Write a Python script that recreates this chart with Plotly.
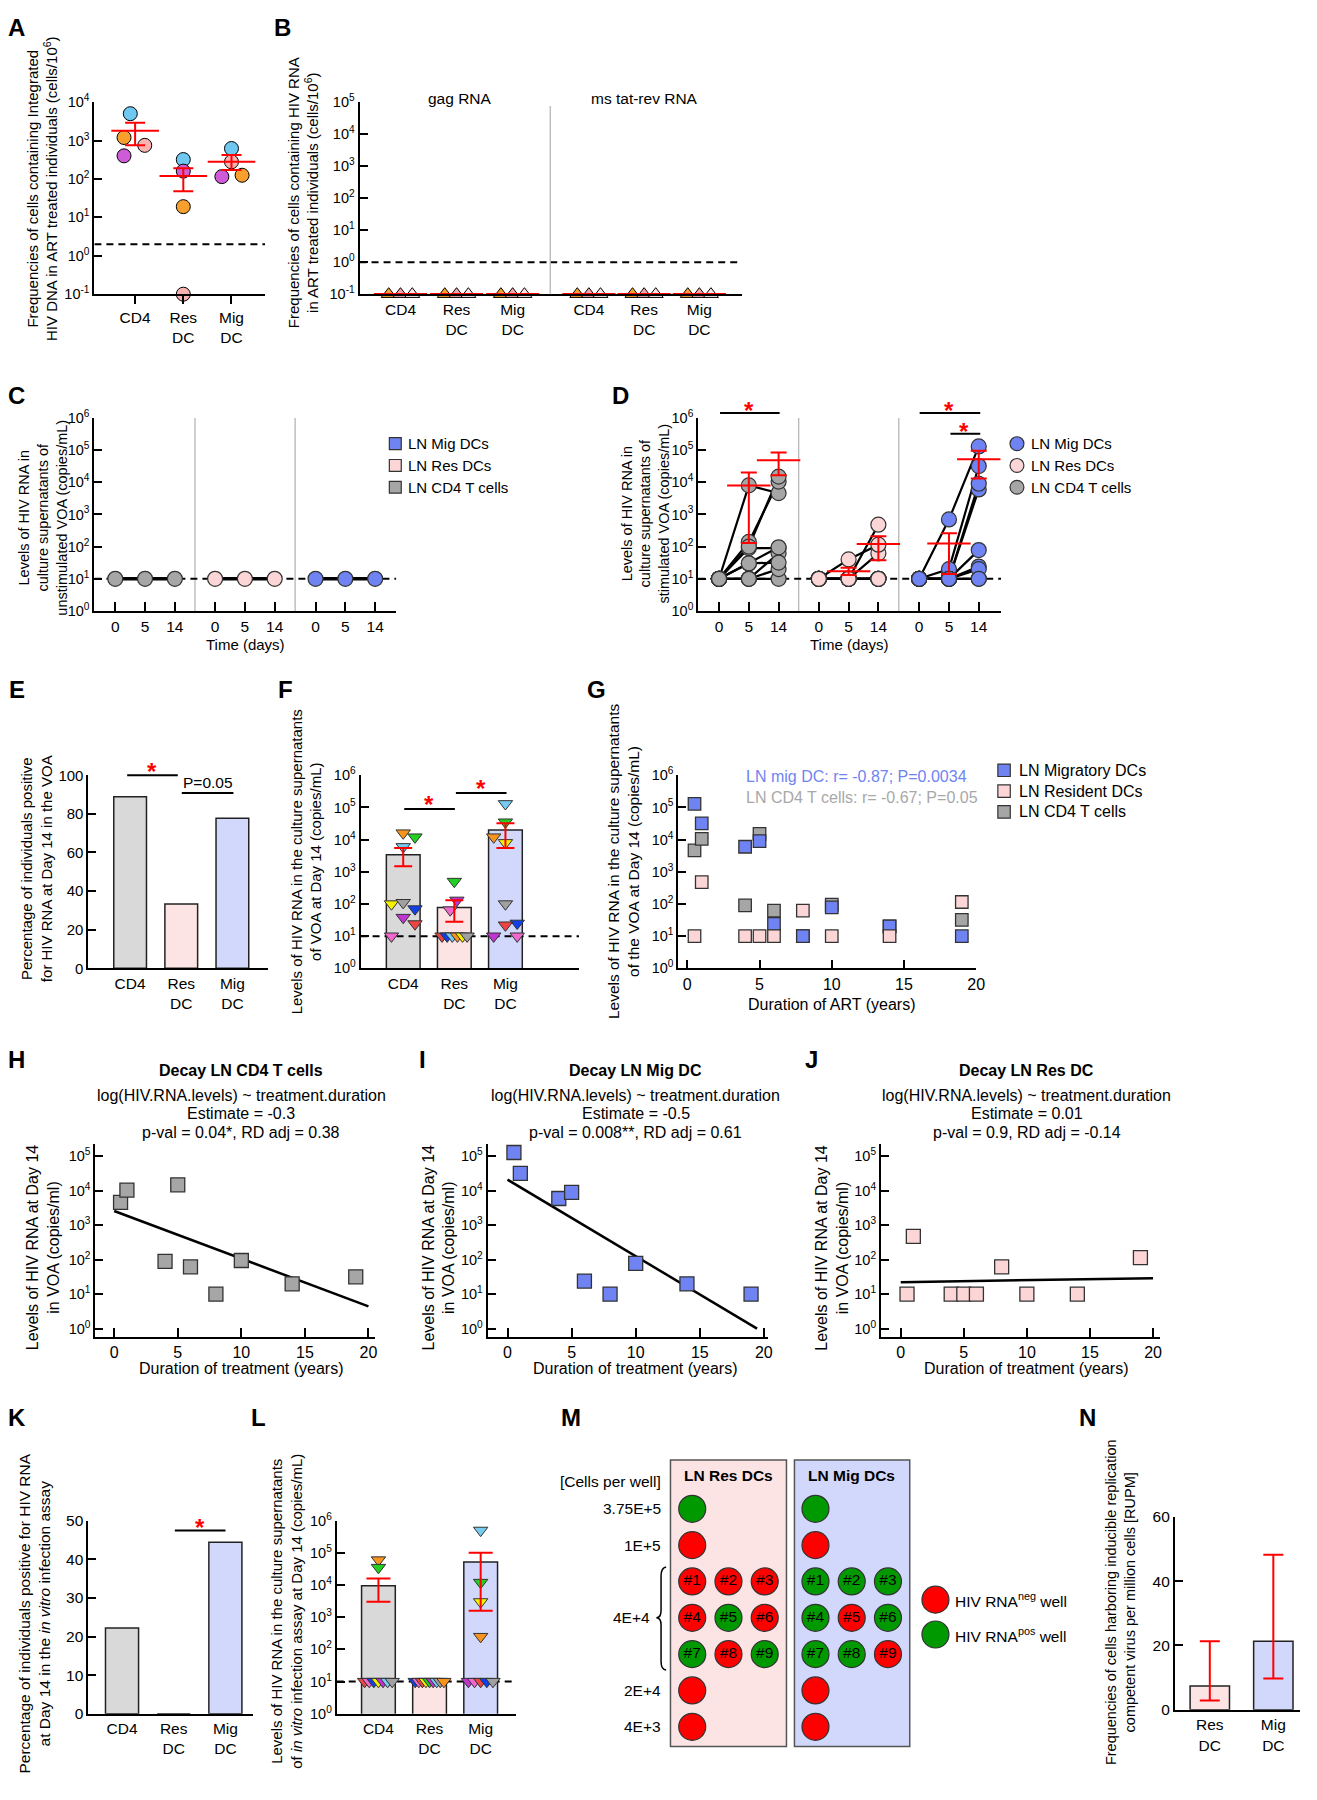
import numpy as np
import plotly.graph_objects as go

W, H = 1317, 1800          # page size (reference pixel coordinates)
OFF = 8                    # default page margin around the figure
FW, FH = W - 2 * OFF, H - 2 * OFF
FONT = "Liberation Sans, Arial, Helvetica, sans-serif"

# ======================= DATA =======================
CATS = ["CD4", "Res<br>DC", "Mig<br>DC"]
DC_CATS = ["Res<br>DC", "Mig<br>DC"]
DAYS = ["0", "5", "14"]

# A: integrated HIV DNA (cells/10^6); donors sky, orange, salmon, magenta
A_CD4 = [5000, 1200, 750, 400]
A_RES = [320, 19, 0.1, 160]
A_MIG = [620, 125, 280, 115]
A_MEAN = [1800, 120, 280]
A_LO = [750, 48, 170]
A_HI = [2900, 190, 420]
A_LIMIT = 2

# B: cell-associated HIV RNA (all below detection)
B_GAG = [[0.1, 0.1, 0.1], [0.1, 0.1, 0.1], [0.1, 0.1, 0.1]]
B_MSTR = [[0.1, 0.1, 0.1], [0.1, 0.1, 0.1], [0.1, 0.1, 0.1]]
B_MEAN_GAG = [0.1, 0.1, 0.1]
B_MEAN_MSTR = [0.1, 0.1, 0.1]
B_LIMIT = 1
B_TITLES = ["gag RNA", "ms tat-rev RNA"]

# C: unstimulated VOA (copies/mL) at days 0, 5, 14
C_CD4 = [10, 10, 10]
C_RES = [10, 10, 10]
C_MIG = [10, 10, 10]
VOA_LIMIT = 10

# D: stimulated VOA, one row per individual (days 0, 5, 14)
D_CD4 = [[10, 8000, 4600], [10, 140, 10500], [10, 90, 90], [10, 100, 15000], [10, 10, 62],
         [10, 10, 10], [10, 30, 95], [10, 10, 20], [10, 30, 32]]
D_RES = [[10, 10, 10], [10, 10, 480], [10, 10, 10], [10, 10, 10], [10, 10, 10],
         [10, 10, 62], [10, 10, 10], [10, 10, 10], [10, 40, 115]]
D_MIG = [[10, 700, 130000], [10, 20, 32000], [10, 10, 6000], [10, 10, 9000], [10, 10, 24],
         [10, 10, 10], [10, 10, 78], [10, 10, 20], [10, 10, 10]]
D_MEAN = [[8000, 48000], [17, 120], [125, 52000]]
D_LO = [[130, 16500], [13, 38], [14, 13000]]
D_HI = [[20000, 84000], [22, 210], [260, 95000]]

# E: % positive at day 14 in VOA
E_PCT = [88.9, 33.3, 77.8]

# F: HIV RNA at day 14 in VOA
F_CD4 = [16000, 12000, 6000, 100, 110, 70, 38, 24, 10]
F_RES = [500, 130, 65, 10, 10, 10, 10, 10, 10]
F_MIG = [130000, 35000, 12000, 8000, 100, 25, 22, 10, 10]
F_BAR = [3400, 78, 20000]
F_LO = [1500, 28, 5500]
F_HI = [5500, 130, 32000]

# G-J: duration of ART vs day-14 HIV RNA
ART_YEARS = [0.5, 1, 4, 5, 6, 8, 10, 14, 19]
G_MIG = [130000, 32000, 6000, 9000, 24, 10, 78, 20, 10]
G_RES = [10, 480, 10, 10, 10, 62, 10, 10, 115]
G_CD4 = [4600, 10500, 90, 15000, 62, 10, 95, 20, 32]
G_STATS = ["LN mig DC: r= -0.87; P=0.0034", "LN CD4 T cells: r= -0.67; P=0.05"]
DECAY_TITLES = ["Decay LN CD4 T cells", "Decay LN Mig DC", "Decay LN Res DC"]
DECAY_EST = ["-0.3", "-0.5", "0.01"]
DECAY_P = ["p-val = 0.04*, RD adj = 0.38", "p-val = 0.008**, RD adj = 0.61", "p-val = 0.9, RD adj = -0.14"]

# K: % positive in in-vitro infection assay
K_PCT = [22.2, 0, 44.4]

# L: HIV RNA in in-vitro infection assay
L_CD4 = [60000, 35000, 10, 10, 10, 10, 10, 10, 10]
L_RES = [10, 10, 10, 10, 10, 10, 10, 10, 10]
L_MIG = [500000, 12000, 3000, 250, 10, 10, 10, 10, 10]
L_BAR = [9500, 10, 52000]
L_LO = [3000, 10, 1600]
L_HI = [16000, 10, 100000]

# M: limiting dilution wells (1 = HIV RNA pos, 0 = neg)
M_DILUTIONS = ["3.75E+5", "1E+5", "4E+4", "2E+4", "4E+3"]
M_RES = [[1], [0], [0, 0, 0, 0, 1, 0, 1, 0, 1], [0], [0]]
M_MIG = [[1], [0], [1, 1, 1, 1, 0, 1, 1, 1, 0], [0], [0]]

# N: RUPM
N_BAR = [7.4, 21.3]
N_LO = [2.9, 9.7]
N_HI = [21.3, 48.2]

# ======================= STYLE =======================
SKY, ORANGE, SALMON, MAGENTA = "#6FC8F0", "#F7A02E", "#F8B3B0", "#CE5CD8"
BPINK, BLPINK = "#F2A6AC", "#FCE4E4"
GRAY_M, PINK_M, BLUE_M = "#A6A6A6", "#FCD6D6", "#6F84F2"
BAR_GRAY, BAR_PINK, BAR_BLUE = "#D9D9D9", "#FDE4E4", "#D1D8FB"
T = dict(orange="#F7941E", green="#22D022", sky="#76CBF2", yellow="#F4F000", gray="#A0A0A0",
         blue="#1040E8", purple="#C234D2", red="#EE4444", pink="#F068CC")
WELL_RED, WELL_GREEN = "#FF0000", "#009A00"
XTICK, YTICK = 15.5, 14.5

fig = go.Figure()
layout = dict(width=FW, height=FH, margin=dict(l=0, r=0, t=0, b=0), paper_bgcolor="white",
              plot_bgcolor="rgba(0,0,0,0)", showlegend=False, hovermode=False,
              font=dict(family=FONT, size=14, color="black"))
shapes, annots = [], []
n_ax = [0]


def fx(x):
    return (x - OFF) / FW


def fy(y):
    return 1 - (y - OFF) / FH


def ax(xpx, ypx, xr, yr, ytype="linear", xkw=None, ykw=None, show=True):
    n_ax[0] += 1
    s = "" if n_ax[0] == 1 else str(n_ax[0])
    common = dict(showgrid=False, zeroline=False, showline=show, visible=show, linecolor="black",
                  linewidth=2, tickcolor="black", tickwidth=2, ticklen=8, ticks="", fixedrange=True)
    xa = dict(common, domain=[max(0, fx(xpx[0])), min(1, fx(xpx[1]))], range=xr, type="linear",
              anchor="y" + s, tickfont=dict(size=XTICK, color="black", family=FONT))
    ya = dict(common, domain=[max(0, fy(ypx[1])), min(1, fy(ypx[0]))], range=yr, type=ytype,
              anchor="x" + s, tickfont=dict(size=YTICK, color="black", family=FONT))
    if xkw:
        xa.update(xkw)
    if ykw:
        ya.update(ykw)
    layout["xaxis" + s] = xa
    layout["yaxis" + s] = ya
    return "x" + s, "y" + s


def logticks(lo, hi):
    return dict(tickvals=[10.0 ** k for k in range(lo, hi + 1)],
                ticktext=[f"10<sup>{k}</sup>" for k in range(lo, hi + 1)])


def text(x, y, s, size=14, color="black", bold=False, angle=0, xanchor="center", yanchor="middle"):
    annots.append(dict(x=fx(x), y=fy(y), xref="paper", yref="paper",
                       text=f"<b>{s}</b>" if bold else s, showarrow=False,
                       font=dict(size=size, color=color, family=FONT), textangle=angle,
                       xanchor=xanchor, yanchor=yanchor))


def pline(x0, y0, x1, y1, color="black", width=2):
    shapes.append(dict(type="line", xref="paper", yref="paper", x0=fx(x0), x1=fx(x1),
                       y0=fy(y0), y1=fy(y1), line=dict(color=color, width=width)))


def star(x, y):
    text(x, y + 7, "*", size=24, color="red", bold=True)


def hline(xa, ya, xr, y):
    fig.add_trace(go.Scatter(x=xr, y=[y, y], mode="lines", xaxis=xa, yaxis=ya,
                             line=dict(color="black", width=2, dash="7px,5px")))


def vsep(xa, ya, x, yr):
    fig.add_trace(go.Scatter(x=[x, x], y=yr, mode="lines", xaxis=xa, yaxis=ya,
                             line=dict(color="#B0B0B0", width=1.2)))


def err_trace(xa, ya, x, mean, lo, hi, mean_w=0, cap=9, thick=2):
    if mean_w:
        marker = dict(symbol="line-ew", size=mean_w, color="red", line=dict(color="red", width=thick))
    else:
        marker = dict(size=1, color="rgba(0,0,0,0)")
    fig.add_trace(go.Scatter(
        x=x, y=mean, mode="markers", marker=marker, cliponaxis=False, xaxis=xa, yaxis=ya,
        error_y=dict(type="data", symmetric=False, array=[h - m for h, m in zip(hi, mean)],
                     arrayminus=[m - l for m, l in zip(mean, lo)], color="red",
                     thickness=thick, width=cap)))


def mean_lines(xa, ya, x, mean, w=36):
    fig.add_trace(go.Scatter(x=x, y=mean, mode="markers", cliponaxis=False, xaxis=xa, yaxis=ya,
                             marker=dict(symbol="line-ew", size=w, color="red",
                                         line=dict(color="red", width=2.5))))


def legend(x, ys, labels, colors, symbol="square", size=13, tx=None, fsize=15):
    for y, lab, c in zip(ys, labels, colors):
        h = size / 2
        shapes.append(dict(type="rect" if symbol == "square" else "circle", xref="paper", yref="paper",
                           x0=fx(x - h), x1=fx(x + h), y0=fy(y + h), y1=fy(y - h),
                           fillcolor=c, line=dict(color="#333", width=1.2)))
        text(tx if tx else x + 12, y, lab, size=fsize, xanchor="left")


# ======================= PANEL A =======================
xr = [-0.845, 2.70]
xa, ya = ax((95, 267), (93, 287), xr, [-1, 4], "log",
            xkw=dict(tickvals=[0, 1, 2], ticktext=CATS, ticks="outside"),
            ykw=dict(ticks="inside", **logticks(-1, 4)))
hline(xa, ya, xr, A_LIMIT)
A_COLORS = [SKY, ORANGE, SALMON, MAGENTA]
A_JIT = [[-0.1, -0.23, 0.2, -0.23], [0, 0, 0, 0], [0, 0.22, 0, -0.2]]
for g, vals in enumerate([A_CD4, A_RES, A_MIG]):
    fig.add_trace(go.Scatter(x=[g + j for j in A_JIT[g]], y=vals, mode="markers", cliponaxis=False,
                             marker=dict(size=14, color=A_COLORS, line=dict(color="black", width=1)),
                             xaxis=xa, yaxis=ya))
err_trace(xa, ya, [0, 1, 2], A_MEAN, A_LO, A_HI, mean_w=34, cap=10)
text(42, 180, "Frequencies of cells containing Integrated<br>HIV DNA in ART treated individuals (cells/10<sup>6</sup>)",
     size=15, angle=-90)

# ======================= PANEL B =======================
B_COLORS = [ORANGE, BPINK, BLPINK]
B_JIT = [-0.21, 0, 0.21]
for k, (xpx, xrb, data, means, tx) in enumerate([
        ((362, 554), [-0.73, 2.67], B_GAG, B_MEAN_GAG, 463),
        ((554, 747), [-0.70, 2.77], B_MSTR, B_MEAN_MSTR, 649)]):
    if k == 0:
        ykw = dict(ticks="inside", **logticks(-1, 5))
    else:
        ykw = dict(showline=False, showticklabels=False, ticks="")
    xa, ya = ax(xpx, (93, 287), xrb, [-1, 5], "log",
                xkw=dict(tickvals=[0, 1, 2], ticktext=CATS), ykw=ykw)
    hline(xa, ya, xrb, B_LIMIT)
    for g, vals in enumerate(data):
        fig.add_trace(go.Scatter(x=[g + j for j in B_JIT], y=vals, mode="markers", cliponaxis=False,
                                 marker=dict(symbol="triangle-up", size=13, color=B_COLORS,
                                             line=dict(color="black", width=1)),
                                 xaxis=xa, yaxis=ya))
    mean_lines(xa, ya, [0, 1, 2], means, w=38)
    text(tx, 89, B_TITLES[k], size=15.5)
pline(554, 97, 554, 287, color="#B0B0B0", width=1.2)
text(305, 184, "Frequencies of cells containing HIV RNA<br>in ART treated individuals (cells/10<sup>6</sup>)",
     size=15, angle=-90)

# ======================= PANELS C & D =======================
GROUP_OFF = [0, 3.35, 6.72]
TPOS = [o + t for o in GROUP_OFF for t in range(3)]
SEPS = [(GROUP_OFF[0] + 2 + GROUP_OFF[1]) / 2, (GROUP_OFF[1] + 2 + GROUP_OFF[2]) / 2]
GROUP_COLORS = [GRAY_M, PINK_M, BLUE_M]


def voa_axes(xpx, xrv):
    return ax(xpx, (412, 607), xrv, [0, 6], "log",
              xkw=dict(tickvals=TPOS, ticktext=DAYS * 3, ticks="inside", ticklen=9),
              ykw=dict(ticks="inside", **logticks(0, 6)))


# C
xrc = [-0.7, 9.43]
xa, ya = voa_axes((95, 399), xrc)
for s in SEPS:
    vsep(xa, ya, s, [1, 1e6])
hline(xa, ya, xrc, VOA_LIMIT)
for g, vals in enumerate([C_CD4, C_RES, C_MIG]):
    fig.add_trace(go.Scatter(x=[GROUP_OFF[g] + t for t in range(3)], y=vals, mode="lines+markers",
                             cliponaxis=False, line=dict(color="black", width=3.5),
                             marker=dict(size=15, color=GROUP_COLORS[g], line=dict(color="#333", width=1.2)),
                             xaxis=xa, yaxis=ya))
text(247, 641, "Time (days)", size=15)
text(43, 513, "Levels of HIV RNA in<br>culture supernatants of<br>unstimulated VOA (copies/mL)", size=14.5, angle=-90)
legend(398, [438, 460, 482], ["LN Mig DCs", "LN Res DCs", "LN CD4 T cells"], [BLUE_M, PINK_M, GRAY_M],
       symbol="square", size=12, tx=409, fsize=15)

# D
xrd = [-0.7, 9.47]
xa, ya = voa_axes((703, 1008), xrd)
for s in SEPS:
    vsep(xa, ya, s, [1, 1e6])
hline(xa, ya, xrd, VOA_LIMIT)
D_GROUPS = [D_CD4, D_RES, D_MIG]
for g, grp in enumerate(D_GROUPS):
    for ind in grp:
        fig.add_trace(go.Scatter(x=[GROUP_OFF[g] + t for t in range(3)], y=ind, mode="lines",
                                 line=dict(color="black", width=2.2), xaxis=xa, yaxis=ya))
for g, grp in enumerate(D_GROUPS):
    xs = [GROUP_OFF[g] + t for ind in grp for t in range(3)]
    ys = [v for ind in grp for v in ind]
    fig.add_trace(go.Scatter(x=xs, y=ys, mode="markers", cliponaxis=False,
                             marker=dict(size=15, color=GROUP_COLORS[g], line=dict(color="#333", width=1.2)),
                             xaxis=xa, yaxis=ya))
for g in range(3):
    err_trace(xa, ya, [GROUP_OFF[g] + 1, GROUP_OFF[g] + 2], D_MEAN[g], D_LO[g], D_HI[g], mean_w=31, cap=8)
pline(725, 407, 785, 407)
star(754, 397)
pline(926, 407, 987, 407)
star(956, 397)
pline(957, 428, 987, 428)
star(971, 419)
text(855, 641, "Time (days)", size=15)
text(650, 509, "Levels of HIV RNA in<br>culture supernatants of<br>stimulated VOA (copies/mL)", size=14.5, angle=-90)
legend(1024, [438, 460, 482], ["LN Mig DCs", "LN Res DCs", "LN CD4 T cells"], [BLUE_M, PINK_M, GRAY_M],
       symbol="circle", size=14, tx=1036, fsize=15)

# ======================= PANEL E =======================
BAR_COLORS = [BAR_GRAY, BAR_PINK, BAR_BLUE]
xre = [-0.815, 2.7]
xa, ya = ax((89, 270), (773, 968), xre, [0, 100],
            xkw=dict(tickvals=[0, 1, 2], ticktext=CATS),
            ykw=dict(ticks="inside", tickvals=[0, 20, 40, 60, 80, 100], tickfont=dict(size=15, family=FONT, color="black")))
fig.add_trace(go.Bar(x=[0, 1, 2], y=E_PCT, width=0.64, marker=dict(color=BAR_COLORS, line=dict(color="#222", width=1.5)),
                     xaxis=xa, yaxis=ya))
pline(128, 773, 179, 773)
star(153, 762)
pline(183, 791, 235, 791)
text(209, 780, "P=0.05", size=15.5)
text(37, 867, "Percentage of individuals positive<br>for HIV RNA at Day 14 in the VOA", size=15, angle=-90)

# ======================= PANEL F =======================
xrf = [-0.835, 3.44]
xa, ya = ax((363, 583), (773, 968), xrf, [0, 6], "log",
            xkw=dict(tickvals=[0, 1, 2], ticktext=CATS),
            ykw=dict(ticks="inside", **logticks(0, 6)))
fig.add_trace(go.Bar(x=[0, 1, 2], y=F_BAR, width=0.66, marker=dict(color=BAR_COLORS, line=dict(color="#222", width=1.5)),
                     xaxis=xa, yaxis=ya))
hline(xa, ya, xrf, VOA_LIMIT)
F_STYLE = [
    (F_CD4, ["orange", "green", "sky", "yellow", "gray", "blue", "purple", "red", "pink"],
     [0, 0.23, 0, -0.23, 0, 0.23, 0, 0.23, -0.23]),
    (F_RES, ["green", "purple", "pink", "red", "blue", "sky", "orange", "yellow", "gray"],
     [0, 0.05, -0.08, -0.24, -0.14, -0.04, 0.06, 0.16, 0.25]),
    (F_MIG, ["sky", "green", "orange", "yellow", "gray", "blue", "red", "purple", "pink"],
     [0, 0, -0.23, 0, 0, 0.23, 0, -0.23, 0.23]),
]
for g, (vals, cols, jit) in enumerate(F_STYLE):
    fig.add_trace(go.Scatter(x=[g + j for j in jit], y=vals, mode="markers", cliponaxis=False,
                             marker=dict(symbol="triangle-down", size=12.5, color=[T[c] for c in cols],
                                         line=dict(color="#333", width=1)),
                             xaxis=xa, yaxis=ya))
err_trace(xa, ya, [0, 1, 2], F_BAR, F_LO, F_HI, cap=9)
pline(407, 807, 458, 807)
star(432, 796)
pline(459, 791, 510, 791)
star(484, 779)
text(308, 860, "Levels of HIV RNA in the culture supernatants<br>of VOA at Day 14 (copies/mL)", size=15, angle=-90)

# ======================= PANEL G =======================
xrg = [-0.62, 20]
xa, ya = ax((683, 983), (773, 968), xrg, [0, 6], "log",
            xkw=dict(tickvals=[0, 5, 10, 15, 20], ticks="inside", tickfont=dict(size=16, family=FONT, color="black")),
            ykw=dict(ticks="inside", **logticks(0, 6)))
for vals, col in [(G_CD4, GRAY_M), (G_MIG, BLUE_M), (G_RES, PINK_M)]:
    fig.add_trace(go.Scatter(x=ART_YEARS, y=vals, mode="markers", cliponaxis=False,
                             marker=dict(symbol="square", size=12.5, color=col, line=dict(color="#333", width=1.3)),
                             xaxis=xa, yaxis=ya))
text(749, 774, G_STATS[0], size=16, color=BLUE_M, xanchor="left")
text(749, 795, G_STATS[1], size=16, color="#A8A8A8", xanchor="left")
text(837, 1005, "Duration of ART (years)", size=16)
text(628, 860, "Levels of HIV RNA in the culture supernatants<br>of the VOA at Day 14 (copies/mL)", size=15.5, angle=-90)
legend(1011, [768, 789, 810], ["LN Migratory DCs", "LN Resident DCs", "LN CD4 T cells"],
       [BLUE_M, PINK_M, GRAY_M], symbol="square", size=12.5, tx=1024, fsize=16)

# ======================= PANELS H, I, J =======================
DECAY = [
    ((96, 378), [-1.48, 20.55], G_CD4, GRAY_M, 243, 44),
    ((491, 773), [-1.55, 20.3], G_MIG, BLUE_M, 640, 442),
    ((887, 1168), [-1.57, 20.55], G_RES, PINK_M, 1034, 838),
]
for k, (xpx, xrh, vals, col, cx, lx) in enumerate(DECAY):
    xa, ya = ax(xpx, (1145, 1340), xrh, [-0.23, 5.374], "log",
                xkw=dict(tickvals=[0, 5, 10, 15, 20], ticks="inside", ticklen=9,
                         tickfont=dict(size=16, family=FONT, color="black")),
                ykw=dict(ticks="inside", **logticks(0, 5)))
    slope, icpt = np.polyfit(ART_YEARS, np.log10(vals), 1)
    x_end = 20.0
    if slope < 0 and icpt / -slope < 20:
        x_end = icpt / -slope
    xs = np.array([0.0, x_end])
    fig.add_trace(go.Scatter(x=xs, y=10 ** (icpt + slope * xs), mode="lines",
                             line=dict(color="black", width=2.5), xaxis=xa, yaxis=ya))
    fig.add_trace(go.Scatter(x=ART_YEARS, y=vals, mode="markers", cliponaxis=False,
                             marker=dict(symbol="square", size=14, color=col, line=dict(color="#333", width=1.3)),
                             xaxis=xa, yaxis=ya))
    text(cx, 1071, DECAY_TITLES[k], size=16, bold=True)
    text(cx, 1096, "log(HIV.RNA.levels) ~ treatment.duration", size=16)
    text(cx, 1115, f"Estimate = {DECAY_EST[k]}", size=16)
    text(cx, 1134, DECAY_P[k], size=16)
    text(cx, 1372, "Duration of treatment (years)", size=16)
    text(lx, 1250, "Levels of HIV RNA at Day 14<br>in VOA (copies/ml)", size=16, angle=-90)

# ======================= PANEL K =======================
xrk = [-0.65, 2.54]
xa, ya = ax((89, 255), (1526, 1721), xrk, [0, 50],
            xkw=dict(tickvals=[0, 1, 2], ticktext=CATS),
            ykw=dict(ticks="inside", tickvals=[0, 10, 20, 30, 40, 50], tickfont=dict(size=15.5, family=FONT, color="black")))
fig.add_trace(go.Bar(x=[0, 1, 2], y=K_PCT, width=0.64,
                     marker=dict(color=BAR_COLORS, line=dict(color="#222", width=1.5)), xaxis=xa, yaxis=ya))
pline(176, 1536, 227, 1536)
star(201, 1526)
text(35, 1620, "Percentage of individuals positive for HIV RNA<br>at Day 14 in the <i>in vitro</i> infection assay",
     size=15.5, angle=-90)

# ======================= PANEL L =======================
xrl = [-0.816, 2.70]
xa, ya = ax((339, 520), (1526, 1721), xrl, [0, 6], "log",
            xkw=dict(tickvals=[0, 1, 2], ticktext=CATS),
            ykw=dict(ticks="inside", **logticks(0, 6)))
fig.add_trace(go.Bar(x=[0, 1, 2], y=L_BAR, width=0.66,
                     marker=dict(color=BAR_COLORS, line=dict(color="#222", width=1.5)), xaxis=xa, yaxis=ya))
hline(xa, ya, xrl, VOA_LIMIT)
L_STYLE = [
    (L_CD4, ["orange", "green", "red", "pink", "blue", "yellow", "purple", "sky", "gray"],
     [0, 0, -0.27, -0.18, -0.09, 0, 0.09, 0.18, 0.27]),
    (L_RES, ["blue", "pink", "red", "yellow", "green", "purple", "sky", "gray", "orange"],
     [-0.28, -0.21, -0.14, -0.07, 0, 0.07, 0.14, 0.21, 0.28]),
    (L_MIG, ["sky", "green", "yellow", "orange", "purple", "pink", "red", "blue", "gray"],
     [0, 0, 0, 0, -0.24, -0.12, 0, 0.12, 0.24]),
]
for g, (vals, cols, jit) in enumerate(L_STYLE):
    fig.add_trace(go.Scatter(x=[g + j for j in jit], y=vals, mode="markers", cliponaxis=False,
                             marker=dict(symbol="triangle-down", size=12.5, color=[T[c] for c in cols],
                                         line=dict(color="#333", width=1)),
                             xaxis=xa, yaxis=ya))
err_trace(xa, ya, [0, 2], [L_BAR[0], L_BAR[2]], [L_LO[0], L_LO[2]], [L_HI[0], L_HI[2]], cap=12)
text(289, 1618, "Levels of HIV RNA in the culture supernatants<br>of <i>in vitro</i> infection assay at Day 14 (copies/mL)",
     size=15, angle=-90)

# ======================= PANEL M =======================
xa, ya = ax((560, 1020), (1440, 1790), [-3.753, 8.849], [7.52, -2.016], show=False)
MIG_OFF = 3.4
ROW_OF = [0, 1, 2, 5, 6]
for x0, x1, fc in [(-0.6, 2.6, BAR_PINK), (MIG_OFF - 0.58, MIG_OFF + 2.6, BAR_BLUE)]:
    shapes.append(dict(type="rect", xref=xa, yref=ya, x0=x0, x1=x1, y0=-1.34, y1=6.54,
                       fillcolor=fc, line=dict(color="#555", width=1.5), layer="below"))
for off, wells, title in [(0, M_RES, "LN Res DCs"), (MIG_OFF, M_MIG, "LN Mig DCs")]:
    xs, ys, cs, ts = [], [], [], []
    for d, status in enumerate(wells):
        if len(status) == 1:
            xs.append(off); ys.append(ROW_OF[d]); cs.append(WELL_GREEN if status[0] else WELL_RED); ts.append(" ")
        else:
            for r, st in enumerate(status):
                xs.append(off + r % 3); ys.append(ROW_OF[d] + r // 3)
                cs.append(WELL_GREEN if st else WELL_RED); ts.append(f"#{r + 1}")
    fig.add_trace(go.Scatter(x=xs, y=ys, mode="markers+text", text=ts, textposition="middle center",
                             textfont=dict(size=15.5, color="black", family=FONT), cliponaxis=False,
                             marker=dict(size=27, color=cs, line=dict(color="#333", width=1.2)),
                             xaxis=xa, yaxis=ya))
    annots.append(dict(x=off + 1, y=-0.93, xref=xa, yref=ya, text=f"<b>{title}</b>", showarrow=False,
                       font=dict(size=15.5, family=FONT, color="black")))
annots.append(dict(x=-0.82, y=-0.74, xref=xa, yref=ya, text="[Cells per well]", showarrow=False,
                   xanchor="right", font=dict(size=15.5, family=FONT, color="black")))
for d, lab in enumerate(M_DILUTIONS):
    yrow = ROW_OF[d] + (1 if d == 2 else 0)
    annots.append(dict(x=-1.1 if d == 2 else -0.82, y=yrow, xref=xa, yref=ya, text=lab, showarrow=False,
                       xanchor="right", font=dict(size=15.5, family=FONT, color="black")))
shapes.append(dict(type="path", xref=xa, yref=ya,
                   path="M -0.72,1.6 Q -0.86,1.62 -0.86,1.85 L -0.86,2.8 Q -0.86,3.0 -0.99,3.0 "
                        "Q -0.86,3.0 -0.86,3.2 L -0.86,4.2 Q -0.86,4.42 -0.72,4.44",
                   line=dict(color="black", width=1.5)))
fig.add_trace(go.Scatter(x=[6.71, 6.71], y=[2.5, 3.46], mode="markers", cliponaxis=False,
                         marker=dict(size=27, color=[WELL_RED, WELL_GREEN], line=dict(color="#333", width=1.2)),
                         xaxis=xa, yaxis=ya))
for yy, lab in [(2.5, "HIV RNA<sup>neg</sup> well"), (3.46, "HIV RNA<sup>pos</sup> well")]:
    annots.append(dict(x=7.2, y=yy, xref=xa, yref=ya, text=lab, showarrow=False, xanchor="left",
                       font=dict(size=15.5, family=FONT, color="black")))

# ======================= PANEL N =======================
xrn = [-0.55, 1.42]
xa, ya = ax((1183, 1309), (1522, 1717), xrn, [0, 60],
            xkw=dict(tickvals=[0, 1], ticktext=DC_CATS),
            ykw=dict(ticks="inside", tickvals=[0, 20, 40, 60], tickfont=dict(size=15.5, family=FONT, color="black")))
fig.add_trace(go.Bar(x=[0, 1], y=N_BAR, width=0.62,
                     marker=dict(color=[BAR_PINK, BAR_BLUE], line=dict(color="#222", width=1.5)), xaxis=xa, yaxis=ya))
err_trace(xa, ya, [0, 1], N_BAR, N_LO, N_HI, cap=10)
text(1129, 1608, "Frequencies of cells harboring inducible replication<br>competent virus per million cells [RUPM]",
     size=14.5, angle=-90)

# ======================= PANEL LETTERS =======================
for lab, x, y in [("A", 17, 18), ("B", 284, 18), ("C", 17, 389), ("D", 625, 389), ("E", 17, 686),
                  ("F", 287, 686), ("G", 601, 686), ("H", 17, 1060), ("I", 425, 1060), ("J", 817, 1060),
                  ("K", 17, 1422), ("L", 260, 1422), ("M", 575, 1422), ("N", 1095, 1422)]:
    text(x, y, lab, size=24, bold=True)

layout["shapes"] = shapes
layout["annotations"] = annots
fig.update_layout(**layout)
fig.write_html("out.html", config={"displayModeBar": False})
